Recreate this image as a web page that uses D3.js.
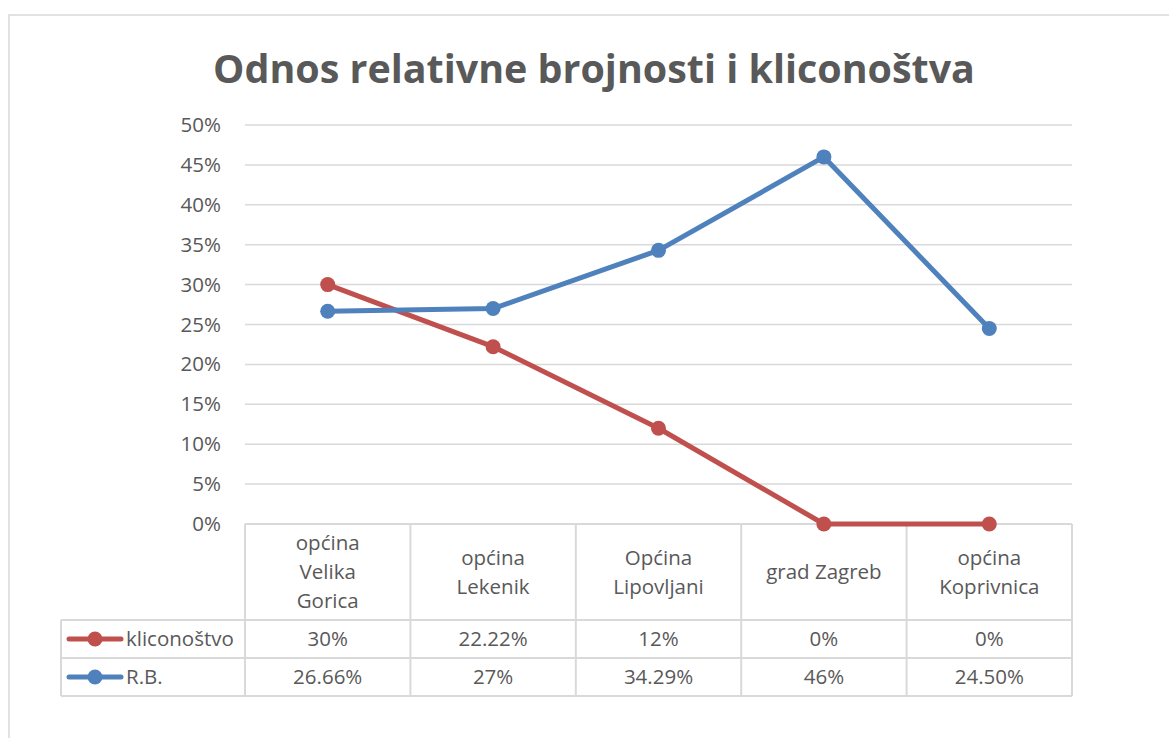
<!DOCTYPE html>
<html>
<head>
<meta charset="utf-8">
<script src="https://cdn.jsdelivr.net/npm/d3@7"></script>
<style>
  body { margin: 0; background: #fff; }
  svg { display: block; font-family: "Open Sans", sans-serif; }
</style>
</head>
<body>
<div id="chart"></div>
<script>
var w = 1169;
var h = 738;

var title = "Odnos relativne brojnosti i kliconoštva";
var categories = [
  ["općina", "Velika", "Gorica"],
  ["općina", "Lekenik"],
  ["Općina", "Lipovljani"],
  ["grad Zagreb"],
  ["općina", "Koprivnica"]
];
var seriesNames = ["kliconoštvo", "R.B."];
var seriesColors = ["#C0504D", "#4F81BD"];
var kliconostvo = [30, 22.22, 12, 0, 0];
var rb = [26.66, 27, 34.29, 46, 24.5];
var tableLabels = [
  ["30%", "22.22%", "12%", "0%", "0%"],
  ["26.66%", "27%", "34.29%", "46%", "24.50%"]
];
var yTicks = [0, 5, 10, 15, 20, 25, 30, 35, 40, 45, 50];

var plotLeft = 245, plotRight = 1072, plotTop = 125, plotBottom = 524;
var headerBottom = 620, rowH = 38, legendLeft = 61;
var textColor = "#595959";
var gridColor = "#d9d9d9";
var fontSize = 20.5;

var xScale = d3
  .scaleBand()
  .domain(d3.range(categories.length))
  .range([plotLeft, plotRight]);

var yScale = d3.scaleLinear().domain([0, 50]).range([plotBottom, plotTop]);

var svg = d3.select("#chart").append("svg").attr("width", w).attr("height", h);

// chart frame
svg
  .append("rect")
  .attr("x", 9)
  .attr("y", 15)
  .attr("width", w)
  .attr("height", h)
  .attr("fill", "none")
  .attr("stroke", gridColor)
  .attr("stroke-width", 1.5);

// title, fit to the width seen in the picture
var t = svg
  .append("text")
  .text(title)
  .attr("x", 594)
  .attr("y", 83)
  .attr("text-anchor", "middle")
  .attr("font-weight", "bold")
  .attr("font-size", 44)
  .attr("fill", textColor);
var tw = t.node().getComputedTextLength();
t.attr("font-size", 44 * 762 / tw);

// gridlines
svg
  .selectAll("line.grid")
  .data(yTicks.slice(1))
  .enter()
  .append("line")
  .attr("class", "grid")
  .attr("x1", plotLeft)
  .attr("x2", plotRight)
  .attr("y1", function (d) { return yScale(d); })
  .attr("y2", function (d) { return yScale(d); })
  .attr("stroke", gridColor)
  .attr("stroke-width", 1.5);

// y axis labels
var yAxis = d3
  .axisLeft(yScale)
  .tickValues(yTicks)
  .tickSize(0)
  .tickPadding(24)
  .tickFormat(function (d) { return d + "%"; });
var ya = svg.append("g").attr("transform", "translate(" + plotLeft + ",0)").call(yAxis);
ya.select(".domain").remove();
ya.selectAll("text")
  .attr("font-family", "Open Sans, sans-serif")
  .attr("font-size", fontSize)
  .attr("fill", textColor);

// data table grid
var tableBottom = headerBottom + rowH * 2;
var g = svg.append("g").attr("stroke", gridColor).attr("stroke-width", 2);
g.append("line").attr("x1", plotLeft).attr("x2", plotRight).attr("y1", plotBottom).attr("y2", plotBottom);
[headerBottom, headerBottom + rowH, tableBottom].forEach(function (y) {
  g.append("line").attr("x1", legendLeft).attr("x2", plotRight).attr("y1", y).attr("y2", y);
});
g.append("line").attr("x1", legendLeft).attr("x2", legendLeft).attr("y1", headerBottom).attr("y2", tableBottom);
d3.range(categories.length + 1).forEach(function (i) {
  var x = i < categories.length ? xScale(i) : plotRight;
  g.append("line").attr("x1", x).attr("x2", x).attr("y1", plotBottom).attr("y2", tableBottom);
});

// category headers
var lineH = 29;
categories.forEach(function (lines, i) {
  var cx = xScale(i) + xScale.bandwidth() / 2;
  var mid = (plotBottom + headerBottom) / 2;
  lines.forEach(function (s, j) {
    svg
      .append("text")
      .text(s)
      .attr("x", cx)
      .attr("y", mid + (j - (lines.length - 1) / 2) * lineH)
      .attr("dy", "0.35em")
      .attr("text-anchor", "middle")
      .attr("font-size", fontSize)
      .attr("fill", textColor);
  });
});

// table rows
tableLabels.forEach(function (row, r) {
  var cy = headerBottom + rowH * r + rowH / 2;
  row.forEach(function (s, i) {
    svg
      .append("text")
      .text(s)
      .attr("x", xScale(i) + xScale.bandwidth() / 2)
      .attr("y", cy)
      .attr("dy", "0.35em")
      .attr("text-anchor", "middle")
      .attr("font-size", fontSize)
      .attr("fill", textColor);
  });
  // legend key
  svg
    .append("line")
    .attr("x1", 69)
    .attr("x2", 121)
    .attr("y1", cy)
    .attr("y2", cy)
    .attr("stroke", seriesColors[r])
    .attr("stroke-width", 5)
    .attr("stroke-linecap", "round");
  svg
    .append("circle")
    .attr("cx", 95)
    .attr("cy", cy)
    .attr("r", 7.5)
    .attr("fill", seriesColors[r]);
  svg
    .append("text")
    .text(seriesNames[r])
    .attr("x", 126)
    .attr("y", cy)
    .attr("dy", "0.35em")
    .attr("font-size", fontSize)
    .attr("fill", textColor);
});

// lines
var line = d3
  .line()
  .x(function (d, i) { return xScale(i) + xScale.bandwidth() / 2; })
  .y(function (d) { return yScale(d); });

[kliconostvo, rb].forEach(function (data, s) {
  svg
    .append("path")
    .datum(data)
    .attr("d", line)
    .attr("fill", "none")
    .attr("stroke", seriesColors[s])
    .attr("stroke-width", 5)
    .attr("stroke-linejoin", "round");
  svg
    .selectAll("circle.s" + s)
    .data(data)
    .enter()
    .append("circle")
    .attr("class", "s" + s)
    .attr("cx", function (d, i) { return xScale(i) + xScale.bandwidth() / 2; })
    .attr("cy", function (d) { return yScale(d); })
    .attr("r", 7.5)
    .attr("fill", seriesColors[s]);
});
</script>
</body>
</html>
